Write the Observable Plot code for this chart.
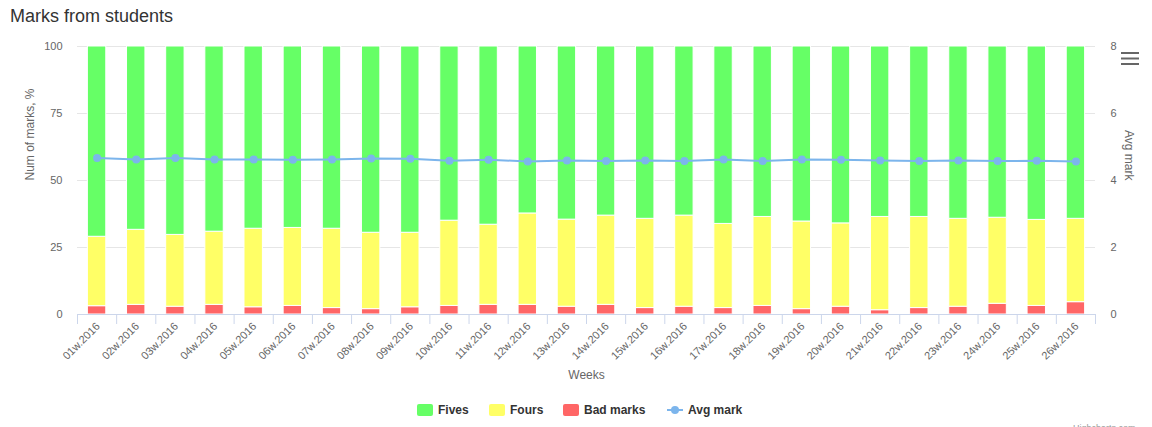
<!DOCTYPE html>
<html>
<head>
<meta charset="utf-8">
<script src="https://cdn.jsdelivr.net/npm/d3@7"></script>
<script src="https://cdn.jsdelivr.net/npm/@observablehq/plot@0.6"></script>
<style>
  body { margin: 0; background: #fff; font-family: "Liberation Sans", Arial, Helvetica, sans-serif; }
  #wrap { position: relative; width: 1152px; height: 427px; overflow: hidden; background: #fff; }
  #title { position: absolute; left: 10px; top: 6px; font-size: 18px; color: #333333; white-space: nowrap; }
  #chart { position: absolute; left: 0; top: 36px; }
  #menu { position: absolute; left: 1120px; top: 50px; }
  .leg { position: absolute; top: 403px; height: 14px; display: flex; align-items: center; font-size: 12px; font-weight: bold; color: #333333; white-space: nowrap; }
  .sw { width: 16px; height: 12px; border-radius: 2px; margin-right: 5px; }
  #credit { position: absolute; left: 1073px; top: 423px; font-size: 9px; color: #999; }
</style>
</head>
<body>
<div id="wrap">
  <div id="title">Marks from students</div>
  <div id="chart"></div>
  <svg id="menu" width="20" height="18"><g stroke="#666" stroke-width="2"><line x1="1" x2="19" y1="3" y2="3"/><line x1="1" x2="19" y1="8.5" y2="8.5"/><line x1="1" x2="19" y1="14" y2="14"/></g></svg>
  <div id="legend"></div>
  <div id="credit">Highcharts.com</div>
</div>
<script>
// ---- data ----
const weeks = ["01w.2016","02w.2016","03w.2016","04w.2016","05w.2016","06w.2016","07w.2016","08w.2016","09w.2016","10w.2016",
  "11w.2016","12w.2016","13w.2016","14w.2016","15w.2016","16w.2016","17w.2016","18w.2016","19w.2016","20w.2016",
  "21w.2016","22w.2016","23w.2016","24w.2016","25w.2016","26w.2016"];
const badMarks = [3.1,3.6,2.9,3.6,2.7,3.2,2.4,2.0,2.7,3.2,3.6,3.6,2.9,3.6,2.4,2.9,2.4,3.2,2.0,2.9,1.6,2.4,2.9,4.0,3.2,4.6];
const fours    = [25.9,28.0,26.8,27.3,29.3,29.1,29.6,28.5,27.8,31.8,29.9,34.1,32.5,33.3,33.3,34.0,31.4,33.2,32.7,31.1,34.8,34.0,32.8,32.1,32.1,31.1];
const fives    = [71.0,68.4,70.3,69.1,68.0,67.7,68.0,69.5,69.5,65.0,66.5,62.3,64.6,63.1,64.3,63.1,66.2,63.6,65.3,66.0,63.6,63.6,64.3,63.9,64.7,64.3];
const avgMark  = [4.67,4.63,4.67,4.63,4.63,4.62,4.63,4.66,4.65,4.59,4.62,4.57,4.60,4.58,4.60,4.58,4.63,4.58,4.63,4.62,4.60,4.58,4.60,4.58,4.59,4.57];
const seriesNames = ["Fives","Fours","Bad marks"];
const seriesColors = ["#66ff66","#ffff66","#ff6666"];
const pctTicks = [0,25,50,75,100];
const avgTicks = [0,2,4,6,8];
const avgMax = 8;

// ---- tables ----
const stacked = [];
weeks.forEach((w,i) => {
  stacked.push({week: w, series: "Bad marks", value: badMarks[i]});
  stacked.push({week: w, series: "Fours", value: fours[i]});
  stacked.push({week: w, series: "Fives", value: fives[i]});
});
const avgRows = weeks.map((w,i) => ({week: w, avg: avgMark[i]}));
const toPct = v => v * 100 / avgMax;

const W = 1152, H = 364, mL = 77, mR = 57, mT = 10, mB = 86;
const step = (W - mL - mR) / weeks.length;
const tickLen = 10 * 100 / (H - mT - mB);

const chart = Plot.plot({
  width: W, height: H,
  marginLeft: mL, marginRight: mR, marginTop: mT, marginBottom: mB,
  style: {fontFamily: '"Liberation Sans", Arial, Helvetica, sans-serif', background: "transparent"},
  x: {type: "band", domain: weeks, paddingInner: 0.53, paddingOuter: 0.265, round: false, label: null},
  y: {domain: [0, 100], label: null},
  color: {domain: seriesNames, range: seriesColors},
  marks: [
    Plot.gridY(pctTicks.slice(1), {stroke: "#e6e6e6", strokeOpacity: 1}),
    Plot.barY(stacked, Plot.stackY({x: "week", y: "value", fill: "series", stroke: "white", strokeWidth: 1})),
    Plot.ruleY([0], {stroke: "#ccd6eb", strokeWidth: 1}),
    Plot.ruleX(weeks, {x: d => d, y1: 0, y2: -tickLen, dx: -step / 2, stroke: "#ccd6eb"}),
    Plot.ruleX(weeks.slice(-1), {x: d => d, y1: 0, y2: -tickLen, dx: step / 2, stroke: "#ccd6eb"}),
    Plot.line(avgRows, {x: "week", y: d => toPct(d.avg), stroke: "#7cb5ec", strokeWidth: 2}),
    Plot.dot(avgRows, {x: "week", y: d => toPct(d.avg), r: 4, fill: "#7cb5ec"}),
    Plot.axisY({anchor: "left", ticks: pctTicks, tickSize: 0, tickPadding: 15, fontSize: 11, fill: "#666666", label: null}),
    Plot.axisY({anchor: "right", ticks: avgTicks.map(toPct), tickFormat: d => String(Math.round(d * avgMax / 100)), tickSize: 0, tickPadding: 15, fontSize: 11, fill: "#666666", label: null, textAnchor: "start"}),
    Plot.axisX({tickRotate: -45, tickSize: 0, tickPadding: 10, fontSize: 11, fill: "#666666", label: null, dx: 1}),
    Plot.text(["Num of marks, %"], {frameAnchor: "left", dx: -47, rotate: -90, fontSize: 12, fill: "#666666", text: d => d}),
    Plot.text(["Avg mark"], {frameAnchor: "right", dx: 33, rotate: 90, fontSize: 12, fill: "#666666", text: d => d}),
    Plot.text(["Weeks"], {frameAnchor: "bottom", dy: 64, fontSize: 12, fill: "#666666", text: d => d})
  ]
});
document.getElementById("chart").appendChild(chart);

// ---- legend ----
const wrap = document.getElementById("wrap");
const legLeft = [417, 489, 563];
seriesNames.forEach((s, i) => {
  const el = document.createElement("div");
  el.className = "leg";
  el.style.left = legLeft[i] + "px";
  el.innerHTML = `<div class="sw" style="background:${seriesColors[i]}"></div><span>${s}</span>`;
  wrap.appendChild(el);
});
const av = document.createElement("div");
av.className = "leg";
av.style.left = "667px";
av.innerHTML = `<svg width="16" height="12" style="margin-right:5px"><line x1="0" x2="16" y1="6" y2="6" stroke="#7cb5ec" stroke-width="2"/><circle cx="8" cy="6" r="4" fill="#7cb5ec"/></svg><span>Avg mark</span>`;
wrap.appendChild(av);
</script>
</body>
</html>
